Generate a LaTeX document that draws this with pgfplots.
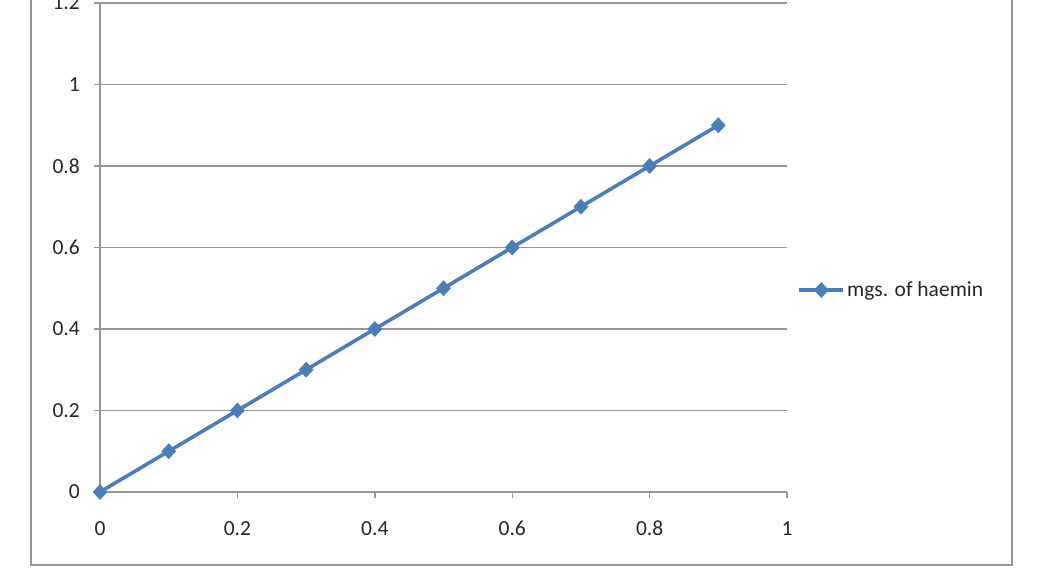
\documentclass[border=0pt]{standalone}
\usepackage{fontspec}
\setmainfont{Carlito}
\usepackage{pgfplots}
\pgfplotsset{compat=1.18}
\definecolor{xlblue}{RGB}{74,126,187}
\definecolor{gridgray}{RGB}{150,150,150}
\definecolor{framegray}{RGB}{150,150,150}
\begin{document}
\begin{tikzpicture}[x=1bp,y=1bp]
\useasboundingbox (0,0) rectangle (1038,576);
\clip (0,0) rectangle (1038,576);
\fill[white] (0,0) rectangle (1038,576);
\draw[framegray, line width=1.5bp] (31,11) rectangle (1012,640);
\begin{axis}[
  at={(100bp,84bp)}, anchor=south west,
  scale only axis, width=687bp, height=489bp,
  xmin=0, xmax=1, ymin=0, ymax=1.2,
  xtick={0,0.2,0.4,0.6,0.8,1},
  ytick={0,0.2,0.4,0.6,0.8,1,1.2},
  axis x line=bottom, axis y line=left,
  axis line style={gridgray, line width=1.4bp, -},
  ymajorgrids, major grid style={gridgray, line width=1.4bp},
  tick align=outside, major tick length=6bp,
  tick style={gridgray, line width=1.4bp},
  /pgf/number format/assume math mode=true,
  tick label style={font=\fontsize{21.5bp}{25bp}\selectfont, text=black!85, inner sep=2bp},
  xticklabel style={yshift=-21bp},
  yticklabel style={xshift=-12bp},
  legend style={at={(1.015,0.413)}, anchor=west, draw=none, fill=none,
    font=\fontsize{21.5bp}{25bp}\selectfont, text=black!85, inner sep=0pt},
  legend cell align=left,
  legend image code/.code={\draw[mark repeat=2,mark phase=2,#1] plot coordinates {(0bp,0bp)(22bp,0bp)(44bp,0bp)};},
  clip=false,
]
\addplot[xlblue, line width=3.6bp, mark=diamond*, mark size=7.5bp,
  mark options={solid, fill=xlblue, draw=xlblue, line width=0.5bp, xscale=1.25}]
  coordinates {(0,0)(0.1,0.1)(0.2,0.2)(0.3,0.3)(0.4,0.4)(0.5,0.5)(0.6,0.6)(0.7,0.7)(0.8,0.8)(0.9,0.9)};
\addlegendentry{mgs. of haemin}
\end{axis}
\end{tikzpicture}
\end{document}
